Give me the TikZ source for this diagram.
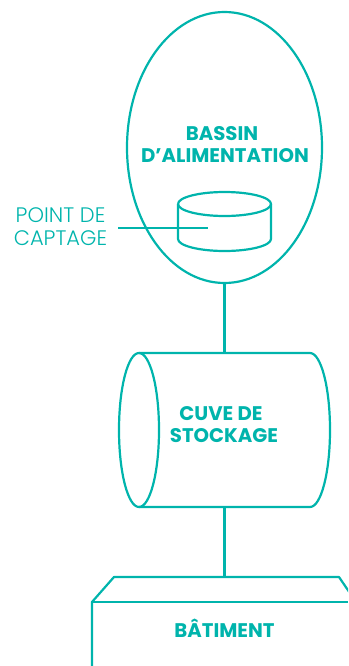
\documentclass[tikz,border=0pt]{standalone}
\usepackage{fontspec}
\setmainfont{Poppins}
\newfontfamily\notefont{Poppins Light}
\usepackage{tikz}
\usetikzlibrary{positioning, shapes.geometric}
\definecolor{tealline}{HTML}{00B4AC}

\begin{document}
\begin{tikzpicture}[
            x=1pt, y=-1pt,
            line/.style={draw=tealline, line width=2.2pt, line join=round},
            title/.style={text=tealline, font=\fontsize{19.7}{22.5}\selectfont\bfseries, align=center, inner sep=0pt},
            note/.style={text=tealline, font=\fontsize{21}{23}\notefont\selectfont, align=center, inner sep=0pt}
        ]
        \useasboundingbox (0,0) rectangle (348,666);
        \clip (0,0) rectangle (348,666);
        % --- Bassin ---
        \node[line, ellipse, inner sep=0pt, minimum width=195pt, minimum height=271pt] (bassin) at (224.5,147.5) {};
        \node[title] (bassinlabel) at (225,144.5) {BASSIN\hspace*{6pt}\\D’ALIMENTATION};
        % --- Point de captage ---
        \draw[line] (178,204) arc[start angle=180, end angle=-180, x radius=46.5, y radius=12];
        \draw[line] (178,204) -- (178,239) arc[start angle=180, end angle=0, x radius=46.5, y radius=12] -- (271,204);
        \coordinate (captage) at (208,228);
        \node[note] (pointlabel) at (60.5,227) {POINT DE\\CAPTAGE};
        \coordinate (pointend) at (118,228);
        \draw[line] (pointend) -- (captage);
        % --- Cuve de stockage ---
        \node[inner sep=0pt, minimum width=210pt, minimum height=154pt] (cuve) at (224.5,430) {};
        \draw[line] (139,353) -- (310,353) arc[start angle=-90, end angle=90, x radius=20, y radius=77] -- (139,507);
        \draw[line] (139,430) ellipse[x radius=20, y radius=77];
        \node[title] (cuvelabel) at (224,424.5) {CUVE DE\hspace*{6pt}\\STOCKAGE};
        % --- Batiment ---
        \coordinate (toit) at (224.5,577);
        \draw[line] (92,666) -- (92,602) -- (114,577) -- (339,577) -- (356,602);
        \draw[line] (92,602) -- (348,602);
        \node[title] (batimentlabel) at (224.5,628.5) {BÂTIMENT};
        % --- Liaisons ---
        \draw[line] (bassin.south) -- (cuve.north);
        \draw[line] (cuve.south) -- (toit);
        \end{tikzpicture}
\end{document}
